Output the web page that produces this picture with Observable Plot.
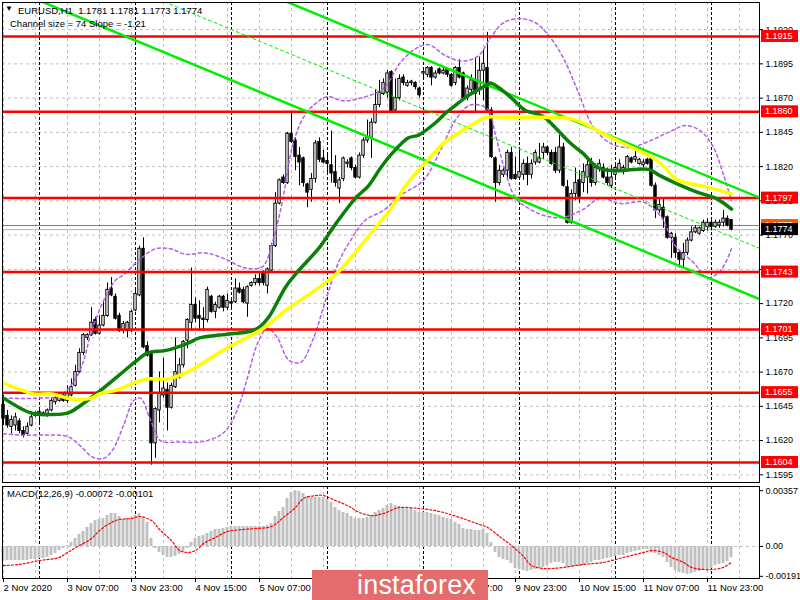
<!DOCTYPE html>
<html><head><meta charset="utf-8">
<script src="https://cdn.jsdelivr.net/npm/d3@7"></script>
<script src="https://cdn.jsdelivr.net/npm/@observablehq/plot@0.6"></script>
<style>
body{margin:0;background:#fff;font-family:"Liberation Sans",Arial,sans-serif;}
#wrap{position:relative;width:800px;height:600px;overflow:hidden;background:#fff}
#main{position:absolute;left:0;top:0}
#macd{position:absolute;left:0;top:485px}
.t{position:absolute;font-size:9.5px;line-height:11px;color:#000;white-space:pre}
#wm{position:absolute;left:312px;top:570px;width:176px;height:30px;background:#e46c6c;color:#fff;font-size:27px;line-height:30px;padding-left:45px;box-sizing:border-box;font-family:"Liberation Sans",Arial,sans-serif;letter-spacing:0.2px}
</style></head><body>
<div id="wrap">
  <div id="main"></div>
  <div id="macd"></div>
  <div class="t" style="left:5px;top:3px;font-size:8px">▼</div>
  <div class="t" style="left:18px;top:5px">EURUSD,H1  1.1781 1.1781 1.1773 1.1774</div>
  <div class="t" style="left:10px;top:18px">Channel size = 74 Slope = -1.21</div>
  <div class="t" style="left:7px;top:488px">MACD(12,26,9) -0.00072 -0.00101</div>
  <div id="wm">instaforex</div>
</div>
<script>
// ---------- candles (H1 bars, index 0 = 2 Nov 2020 15:00) ----------
const openP = [1.1646,1.1638,1.1630,1.1631,1.1634,1.1627,1.1625,1.1631,1.1638,1.1640,
1.1639,1.1638,1.1642,1.1648,1.1649,1.1653,1.1649,1.1653,1.1660,1.1670,
1.1684,1.1695,1.1697,1.1708,1.1698,1.1704,1.1711,1.1731,1.1725,1.1711,
1.1700,1.1700,1.1700,1.1715,1.1726,1.1760,1.1689,1.1684,1.1618,1.1642,
1.1653,1.1657,1.1644,1.1659,1.1666,1.1675,1.1693,1.1706,1.1719,1.1711,
1.1709,1.1708,1.1725,1.1714,1.1717,1.1725,1.1717,1.1721,1.1721,1.1731,
1.1730,1.1720,1.1733,1.1735,1.1738,1.1743,1.1733,1.1744,1.1762,1.1793,
1.1812,1.1808,1.1844,1.1839,1.1828,1.1826,1.1807,1.1803,1.1811,1.1838,
1.1826,1.1824,1.1821,1.1816,1.1804,1.1811,1.1822,1.1826,1.1819,1.1812,
1.1828,1.1839,1.1841,1.1852,1.1865,1.1873,1.1874,1.1889,1.1861,1.1870,
1.1885,1.1879,1.1881,1.1881,1.1877,1.1888,1.1887,1.1892,1.1885,1.1891,
1.1888,1.1891,1.1887,1.1881,1.1892,1.1888,1.1870,1.1876,1.1883,1.1876,
1.1890,1.1892,1.1861,1.1826,1.1808,1.1814,1.1817,1.1830,1.1814,1.1812,
1.1814,1.1822,1.1814,1.1823,1.1823,1.1830,1.1834,1.1830,1.1830,1.1817,
1.1834,1.1805,1.1779,1.1800,1.1810,1.1808,1.1812,1.1822,1.1808,1.1819,
1.1819,1.1812,1.1806,1.1814,1.1817,1.1816,1.1817,1.1826,1.1825,1.1822,
1.1821,1.1825,1.1827,1.1806,1.1788,1.1790,1.1783,1.1768,1.1768,1.1757,
1.1752,1.1757,1.1766,1.1772,1.1771,1.1773,1.1776,1.1779,1.1776,1.1777,
1.1779,1.1782,1.1781];
const highP = [1.1653,1.1642,1.1638,1.1640,1.1636,1.1630,1.1633,1.1641,1.1641,1.1642,
1.1641,1.1643,1.1651,1.1652,1.1654,1.1654,1.1660,1.1665,1.1675,1.1687,
1.1698,1.1698,1.1717,1.1710,1.1711,1.1721,1.1735,1.1739,1.1727,1.1713,
1.1707,1.1707,1.1715,1.1730,1.1762,1.1768,1.1692,1.1685,1.1644,1.1670,
1.1680,1.1662,1.1662,1.1695,1.1680,1.1693,1.1709,1.1746,1.1724,1.1722,
1.1717,1.1732,1.1726,1.1721,1.1726,1.1726,1.1727,1.1724,1.1738,1.1735,
1.1732,1.1733,1.1736,1.1741,1.1742,1.1744,1.1746,1.1764,1.1801,1.1811,
1.1814,1.1845,1.1859,1.1841,1.1834,1.1827,1.1808,1.1815,1.1839,1.1841,
1.1832,1.1830,1.1846,1.1828,1.1812,1.1827,1.1825,1.1827,1.1821,1.1830,
1.1841,1.1854,1.1855,1.1876,1.1883,1.1884,1.1890,1.1890,1.1884,1.1887,
1.1887,1.1883,1.1883,1.1882,1.1878,1.1890,1.1893,1.1893,1.1890,1.1892,
1.1892,1.1892,1.1888,1.1893,1.1898,1.1889,1.1879,1.1887,1.1899,1.1900,
1.1905,1.1918,1.1863,1.1827,1.1821,1.1819,1.1832,1.1834,1.1827,1.1834,
1.1825,1.1827,1.1825,1.1832,1.1837,1.1837,1.1835,1.1832,1.1834,1.1843,
1.1837,1.1810,1.1803,1.1819,1.1817,1.1822,1.1827,1.1826,1.1822,1.1825,
1.1822,1.1819,1.1821,1.1822,1.1825,1.1821,1.1828,1.1827,1.1832,1.1826,
1.1825,1.1826,1.1828,1.1808,1.1797,1.1797,1.1784,1.1772,1.1771,1.1759,
1.1764,1.1768,1.1776,1.1777,1.1776,1.1781,1.1782,1.1781,1.1781,1.1781,
1.1788,1.1784,1.1781];
const lowP = [1.1631,1.1629,1.1625,1.1627,1.1625,1.1622,1.1624,1.1630,1.1637,1.1633,
1.1638,1.1637,1.1641,1.1646,1.1648,1.1648,1.1647,1.1652,1.1659,1.1669,
1.1682,1.1693,1.1696,1.1697,1.1697,1.1703,1.1710,1.1725,1.1708,1.1699,
1.1698,1.1695,1.1699,1.1714,1.1725,1.1687,1.1681,1.1602,1.1607,1.1633,
1.1651,1.1627,1.1643,1.1658,1.1665,1.1673,1.1687,1.1700,1.1706,1.1700,
1.1700,1.1706,1.1713,1.1709,1.1716,1.1714,1.1715,1.1717,1.1720,1.1727,
1.1720,1.1710,1.1732,1.1733,1.1733,1.1733,1.1727,1.1742,1.1761,1.1792,
1.1807,1.1807,1.1837,1.1817,1.1806,1.1805,1.1790,1.1794,1.1808,1.1823,
1.1822,1.1815,1.1808,1.1805,1.1793,1.1809,1.1819,1.1817,1.1811,1.1811,
1.1826,1.1837,1.1826,1.1851,1.1863,1.1872,1.1870,1.1859,1.1859,1.1868,
1.1879,1.1878,1.1879,1.1876,1.1870,1.1885,1.1885,1.1879,1.1884,1.1887,
1.1887,1.1885,1.1878,1.1879,1.1884,1.1869,1.1868,1.1872,1.1859,1.1872,
1.1868,1.1859,1.1826,1.1794,1.1806,1.1812,1.1810,1.1810,1.1810,1.1810,
1.1810,1.1806,1.1811,1.1821,1.1822,1.1825,1.1828,1.1821,1.1815,1.1815,
1.1805,1.1778,1.1778,1.1795,1.1793,1.1801,1.1800,1.1805,1.1806,1.1816,
1.1811,1.1806,1.1804,1.1812,1.1816,1.1814,1.1816,1.1822,1.1823,1.1821,
1.1819,1.1821,1.1805,1.1782,1.1786,1.1775,1.1767,1.1753,1.1753,1.1746,
1.1746,1.1755,1.1765,1.1771,1.1770,1.1772,1.1773,1.1773,1.1775,1.1775,
1.1776,1.1776,1.1773];
const closeP = [1.1636,1.1631,1.1635,1.1637,1.1627,1.1624,1.1630,1.1637,1.1640,1.1641,
1.1640,1.1642,1.1649,1.1651,1.1652,1.1649,1.1654,1.1659,1.1670,1.1684,
1.1697,1.1697,1.1706,1.1698,1.1704,1.1711,1.1730,1.1726,1.1709,1.1700,
1.1705,1.1706,1.1714,1.1727,1.1760,1.1688,1.1682,1.1618,1.1643,1.1654,
1.1658,1.1644,1.1660,1.1670,1.1675,1.1692,1.1708,1.1719,1.1709,1.1709,
1.1708,1.1730,1.1714,1.1719,1.1725,1.1717,1.1722,1.1720,1.1731,1.1728,
1.1721,1.1732,1.1735,1.1738,1.1735,1.1735,1.1745,1.1762,1.1793,1.1810,
1.1808,1.1844,1.1838,1.1827,1.1823,1.1808,1.1801,1.1811,1.1837,1.1825,
1.1823,1.1822,1.1815,1.1808,1.1810,1.1826,1.1823,1.1819,1.1812,1.1828,
1.1839,1.1841,1.1852,1.1865,1.1874,1.1881,1.1888,1.1860,1.1870,1.1884,
1.1881,1.1881,1.1882,1.1878,1.1872,1.1889,1.1892,1.1885,1.1888,1.1888,
1.1890,1.1887,1.1879,1.1892,1.1885,1.1870,1.1877,1.1883,1.1873,1.1890,
1.1895,1.1861,1.1827,1.1808,1.1817,1.1817,1.1830,1.1811,1.1811,1.1816,
1.1822,1.1814,1.1822,1.1830,1.1826,1.1834,1.1830,1.1822,1.1817,1.1834,
1.1806,1.1779,1.1800,1.1808,1.1798,1.1816,1.1821,1.1808,1.1819,1.1822,
1.1812,1.1808,1.1812,1.1819,1.1822,1.1819,1.1827,1.1823,1.1827,1.1825,
1.1823,1.1822,1.1806,1.1788,1.1792,1.1783,1.1768,1.1771,1.1757,1.1752,
1.1757,1.1766,1.1772,1.1775,1.1775,1.1779,1.1779,1.1776,1.1779,1.1779,
1.1782,1.1777,1.1774];

// ---------- moving averages: [bar, price] ----------
const greenMA = [[0,1.1651],[7,1.1640],[12,1.1639],[16,1.1640],[19,1.1645],[24,1.1656],[29,1.1668],[34,1.1680],[36,1.1684],[41,1.1686],[46,1.1691],[49,1.1695],[54,1.1697],[57,1.1698],[62,1.1700],[64,1.1703],[66.5,1.1711],[70.5,1.1732],[73.75,1.1744],[79,1.1761],[83,1.1778],[88,1.1797],[91.25,1.1806],[94.25,1.1819],[97.25,1.1830],[101.25,1.1841],[103.75,1.1843],[108,1.1852],[110.5,1.1859],[112.25,1.1863],[116.25,1.1872],[120.5,1.1879],[121.75,1.1881],[126.25,1.1872],[130.5,1.1861],[134.75,1.1857],[138.75,1.1846],[141.75,1.1837],[144.75,1.1830],[148.75,1.1819],[153,1.1817],[161.25,1.1818],[163.75,1.1814],[168,1.1808],[173.75,1.1801],[178,1.1797],[182,1.1789]];
const yellowMA = [[0,1.1662],[3.5,1.1658],[7.5,1.1654],[12,1.1654],[16,1.1651],[18.5,1.1650],[22,1.1651],[24,1.1654],[28.5,1.1657],[32.5,1.1662],[36,1.1665],[41,1.1665],[46,1.1670],[55.5,1.1687],[65,1.1702],[70.5,1.1715],[79,1.1732],[84,1.1744],[87,1.1754],[94,1.1779],[97,1.1790],[101,1.1808],[105.5,1.1823],[110,1.1837],[114,1.1845],[118,1.1852],[120.5,1.1856],[126,1.1856],[135,1.1856],[142,1.1855],[145.5,1.1851],[149.25,1.1845],[157,1.1834],[162,1.1827],[165.5,1.1819],[168,1.1811],[171,1.1808],[176,1.1805],[182,1.1800]];

// ---------- envelope bands (purple dashed): [bar, price] ----------
const upperBand = [[0,1.1651],[9.25,1.1651],[14.25,1.1653],[18,1.1665],[20,1.1678],[21.75,1.1697],[25,1.1722],[28,1.1737],[30,1.1741],[34,1.1752],[38,1.1760],[41.75,1.1760],[45.5,1.1756],[50.5,1.1757],[55,1.1753],[60.5,1.1746],[64.75,1.1747],[67.25,1.1765],[69.75,1.1795],[72.25,1.1835],[75,1.1856],[78,1.1866],[81,1.1871],[85,1.1868],[89.25,1.1870],[95,1.1877],[99.25,1.1896],[103,1.1906],[106.25,1.1909],[110.5,1.1901],[115,1.1897],[118.75,1.1901],[121.75,1.1914],[125,1.1925],[129.25,1.1928],[133,1.1925],[136.75,1.1914],[140,1.1899],[143.75,1.1874],[147.25,1.1850],[151.75,1.1837],[156.75,1.1834],[161.75,1.1839],[166.25,1.1845],[170.5,1.1850],[174.25,1.1846],[177.5,1.1834],[180,1.1814],[182,1.1795]];
const lowerBand = [[0,1.1625],[4.25,1.1624],[10.5,1.1624],[16,1.1623],[19.25,1.1616],[22.25,1.1608],[25,1.1607],[27.25,1.1613],[30,1.1631],[32.5,1.1649],[34.25,1.1651],[36.75,1.1635],[39.25,1.1620],[44.25,1.1619],[49.25,1.1619],[54.25,1.1624],[56.75,1.1632],[59.25,1.1649],[61,1.1666],[63.5,1.1691],[66,1.1702],[68.5,1.1695],[71.25,1.1679],[74.25,1.1677],[77.25,1.1693],[80.5,1.1722],[83.75,1.1750],[86.75,1.1766],[90.5,1.1781],[95,1.1788],[99.25,1.1799],[105,1.1810],[109.25,1.1832],[113,1.1854],[116.75,1.1865],[121,1.1862],[123,1.1843],[125,1.1821],[128,1.1797],[131,1.1790],[135.5,1.1784],[140,1.1783],[145,1.1789],[149.25,1.1797],[154.25,1.1793],[160,1.1794],[164.25,1.1784],[168,1.1762],[172.5,1.1750],[176,1.1739],[179.25,1.1744],[182,1.1760]];

// ---------- regression channel (size 74 pips, slope -1.21 pips/bar) ----------
const channelBars = [0, 189];
const channelLower = [1.1952, 1.17233];
const channelMid = [1.1989, 1.17603];
const channelUpper = [1.2026, 1.17973];

// ---------- horizontal levels ----------
const levels = [1.1915, 1.1860, 1.1797, 1.1743, 1.1701, 1.1655, 1.1604];
const askLine = 1.1777;
const bidLine = 1.1774;
const priceTicks = [1.1595,1.1620,1.1645,1.1670,1.1695,1.1720,1.1745,1.1770,1.1795,1.1820,1.1845,1.1870,1.1895,1.1920];

// ---------- time axis ----------
const timeTickBars = [0,16,32,48,64,80,96,112,128,144,160,176];
const timeLabels = ["2 Nov 2020","3 Nov 07:00","3 Nov 23:00","4 Nov 15:00","5 Nov 07:00","5 Nov 23:00","6 Nov 15:00","9 Nov 07:00","9 Nov 23:00","10 Nov 15:00","11 Nov 07:00","11 Nov 23:00"];
const daySeparators = [9,33,57,81,105,129,153,177];

// ---------- MACD(12,26,9) ----------
const macdHist = [-0.00090,-0.00090,-0.00090,-0.00090,-0.00090,-0.00090,-0.00090,-0.00083,-0.00083,-0.00077,
-0.00077,-0.00070,-0.00058,-0.00045,-0.00026,-0.00013,
0.00006,0.00026,0.00051,0.00077,0.00096,0.00122,0.00147,0.00166,0.00173,0.00179,0.00198,0.00211,0.00211,
0.00192,0.00173,0.00179,0.00186,0.00198,0.00211,0.00186,0.00154,
0.00051,-0.00013,-0.00038,-0.00058,-0.00070,-0.00070,-0.00064,-0.00051,-0.00038,-0.00013,
0.00026,0.00051,0.00064,0.00070,0.00083,0.00096,0.00109,0.00109,0.00115,0.00122,
0.00128,0.00128,0.00128,0.00128,0.00128,0.00128,0.00128,0.00128,0.00128,0.00134,0.00147,
0.00192,0.00224,0.00250,0.00307,0.00346,0.00358,0.00352,0.00339,0.00320,0.00314,0.00314,0.00314,0.00314,
0.00301,0.00282,0.00250,0.00230,0.00218,0.00211,0.00192,0.00179,0.00179,0.00179,
0.00186,0.00198,0.00218,0.00230,0.00243,0.00262,0.00275,0.00262,0.00256,0.00250,
0.00243,0.00243,0.00230,0.00218,0.00218,0.00218,0.00211,0.00205,0.00198,0.00186,0.00179,0.00173,
0.00154,0.00141,0.00115,0.00109,0.00109,0.00102,0.00102,0.00109,0.00083,0.00026,
-0.00038,-0.00070,-0.00083,-0.00090,-0.00109,-0.00141,-0.00147,-0.00154,-0.00160,-0.00154,
-0.00147,-0.00141,-0.00134,-0.00122,-0.00109,-0.00102,-0.00102,-0.00109,-0.00134,-0.00134,
-0.00128,-0.00128,-0.00122,-0.00109,-0.00102,-0.00090,-0.00090,-0.00083,-0.00077,-0.00070,
-0.00064,-0.00058,-0.00058,-0.00045,-0.00038,-0.00032,-0.00026,-0.00019,-0.00019,
-0.00038,-0.00045,-0.00058,-0.00070,-0.00102,-0.00134,-0.00154,-0.00166,-0.00173,-0.00179,-0.00173,
-0.00166,-0.00160,-0.00154,-0.00147,-0.00141,-0.00122,-0.00115,-0.00109,-0.00096,-0.00072];
const macdSignal = [[0,-0.00122],[4,-0.00115],[9,-0.00090],[14,-0.00070],[16,-0.00038],[19,0.00006],[22,0.00051],[24,0.00102],[27,0.00154],[29,0.00173],[32,0.00179],[34,0.00192],[37,0.00166],[39,0.00109],[42,0.00038],[44,-0.00026],[46,-0.00038],[48,-0.00026],[50,0.00019],[53,0.00058],[56,0.00096],[60,0.00109],[63,0.00115],[67,0.00128],[70,0.00186],[73,0.00250],[75,0.00307],[78,0.00326],[80,0.00326],[83,0.00294],[86,0.00262],[89,0.00218],[92,0.00198],[95,0.00211],[98,0.00243],[99,0.00250],[104,0.00243],[109,0.00224],[114,0.00186],[119,0.00141],[121,0.00122],[124,0.00064],[127,0.00006],[130,-0.00064],[132,-0.00122],[135,-0.00141],[137,-0.00141],[140,-0.00134],[145,-0.00115],[150,-0.00102],[155,-0.00070],[160,-0.00038],[162,-0.00026],[165,-0.00038],[167,-0.00070],[170,-0.00102],[172,-0.00134],[175,-0.00147],[177,-0.00147],[180,-0.00134],[182,-0.00101]];
const macdTicks = [0.00357, 0, -0.00191];
const macdTickLabels = ["0.00357", "0.00", "-0.00191"];

// ---------- build ----------
const candles = openP.map((o, i) => ({i, open: o, high: highP[i], low: lowP[i], close: closeP[i]}));
const pairs = a => a.map(([b, v]) => ({b, v}));
const chan = (ys) => channelBars.map((b, k) => ({b, v: ys[k]}));
const gridBars = d3.range(0, 189, 8);
const fmt4 = d3.format(".4f");
const timeMap = new Map(timeTickBars.map((b, k) => [b, timeLabels[k]]));
const macdMap = new Map(macdTicks.map((v, k) => [v, macdTickLabels[k]]));
const xDomain = [-0.25, 189];
const baseStyle = {background: "white", fontFamily: "'Liberation Sans', Arial, sans-serif", fontSize: "9px", color: "black", overflow: "visible"};

const main = Plot.plot({
  width: 800, height: 485,
  marginLeft: 2, marginRight: 41, marginTop: 2, marginBottom: 3,
  x: {domain: xDomain, axis: null},
  y: {domain: [1.15894, 1.19398], axis: null},
  style: baseStyle,
  marks: [
    Plot.ruleY(priceTicks, {stroke: "#c0c0c0", strokeDasharray: "3,3"}),
    Plot.ruleX(gridBars, {stroke: "#c0c0c0", strokeDasharray: "3,3"}),
    Plot.ruleX(daySeparators, {stroke: "#000", strokeDasharray: "3,2"}),
    Plot.ruleY([bidLine], {stroke: "#b4b4b4"}),
    Plot.ruleY([askLine], {stroke: "#ff5a00"}),
    Plot.ruleX(candles, {x: "i", y1: "low", y2: "high", stroke: "#000"}),
    Plot.rect(candles, {x1: d => d.i - 0.3, x2: d => d.i + 0.3, y1: "open", y2: "close",
      fill: d => d.close >= d.open ? "#fff" : "#000", stroke: "#000", strokeWidth: 1}),
    Plot.line(pairs(upperBand), {x: "b", y: "v", stroke: "#b25ee8", strokeDasharray: "3,3", curve: "catmull-rom"}),
    Plot.line(pairs(lowerBand), {x: "b", y: "v", stroke: "#b25ee8", strokeDasharray: "3,3", curve: "catmull-rom"}),
    Plot.ruleY(levels, {stroke: "#ff0000", strokeWidth: 2.5}),
    Plot.line(chan(channelMid), {x: "b", y: "v", stroke: "#00ee00", strokeWidth: 1, strokeDasharray: "3,3", clip: true}),
    Plot.line(chan(channelUpper), {x: "b", y: "v", stroke: "#00ee00", strokeWidth: 2.5, clip: true}),
    Plot.line(chan(channelLower), {x: "b", y: "v", stroke: "#00ee00", strokeWidth: 2.5, clip: true}),
    Plot.line(pairs(greenMA), {x: "b", y: "v", stroke: "#0a800a", strokeWidth: 3.5, curve: "catmull-rom"}),
    Plot.line(pairs(yellowMA), {x: "b", y: "v", stroke: "#ffff00", strokeWidth: 3.5, curve: "catmull-rom"}),
    Plot.frame({stroke: "#000"}),
    Plot.axisY(priceTicks, {anchor: "right", label: null, tickFormat: fmt4, tickSize: 3, tickPadding: 3, fontSize: 9})
  ]
});
document.getElementById("main").appendChild(main);

// price labels on the right scale, positioned through Plot's y scale
const sy = main.scale("y");
const gl = d3.select(main).append("g")
  .attr("font-size", 9).attr("font-family", "'Liberation Sans', Arial, sans-serif")
  .attr("text-anchor", "start");
function priceLabel(p, bg) {
  const y = sy.apply(p);
  gl.append("rect").attr("x", 761).attr("y", y - 6).attr("width", 37).attr("height", 12).attr("fill", bg);
  gl.append("text").attr("x", 765).attr("y", y).attr("dy", "0.35em").attr("text-anchor", "start").attr("fill", "#fff").text(fmt4(p));
}
levels.forEach(p => priceLabel(p, "#ff0000"));
priceLabel(askLine, "#ff5a00");
priceLabel(bidLine, "#000");

const macd = Plot.plot({
  width: 800, height: 115,
  marginLeft: 2, marginRight: 41, marginTop: 1, marginBottom: 22,
  x: {domain: xDomain, axis: null},
  y: {domain: [-0.00205, 0.00384], axis: null},
  style: baseStyle,
  marks: [
    Plot.ruleX(gridBars, {stroke: "#c0c0c0", strokeDasharray: "3,3"}),
    Plot.ruleX(daySeparators, {stroke: "#000", strokeDasharray: "3,2"}),
    Plot.ruleY([0], {stroke: "#c0c0c0", strokeDasharray: "3,3"}),
    Plot.rect(macdHist.map((v, i) => ({i, v})), {x1: d => d.i - 0.36, x2: d => d.i + 0.36, y1: 0, y2: "v", fill: "#c0c0c0"}),
    Plot.line(pairs(macdSignal), {x: "b", y: "v", stroke: "#ff0000", strokeWidth: 1.2, strokeDasharray: "2,2", curve: "catmull-rom"}),
    Plot.frame({stroke: "#000"}),
    Plot.axisY(macdTicks, {anchor: "right", label: null, tickFormat: d => macdMap.get(d), tickSize: 3, tickPadding: 3, fontSize: 9}),
    Plot.axisX(timeTickBars, {anchor: "bottom", label: null, tickFormat: d => timeMap.get(d), textAnchor: "start", tickSize: 4, tickPadding: 2, fontSize: 9.5})
  ]
});
document.getElementById("macd").appendChild(macd);
</script>
</body></html>
